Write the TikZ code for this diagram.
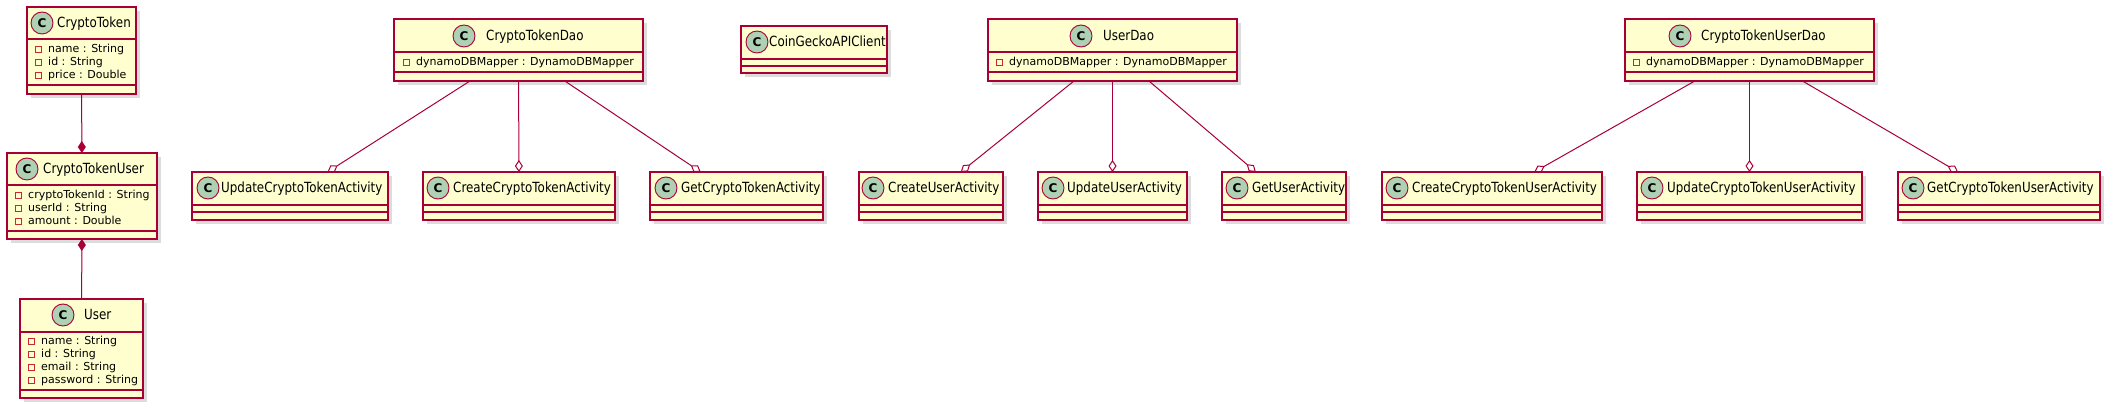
\documentclass[tikz,border=0pt]{standalone}
\usepackage{fontspec}
\setmainfont{DejaVu Sans}
\newfontfamily\titlefont[FakeStretch=0.85]{DejaVu Sans}
\usetikzlibrary{arrows.meta,shadows}
\definecolor{umlborder}{HTML}{A80036}
\definecolor{umlfill}{HTML}{FEFECE}
\definecolor{umlcirc}{HTML}{ADD1B2}
\definecolor{umlpriv}{HTML}{C82930}
\tikzset{
 classbox/.style={rectangle, draw=umlborder, fill=umlfill, line width=1.25pt, inner sep=0pt, outer sep=0pt,
   drop shadow={shadow xshift=4pt, shadow yshift=-4pt, fill=black!50, opacity=0.28}},
 sepline/.style={draw=umlborder, line width=1.25pt},
 circmark/.style={circle, draw=umlborder, fill=umlcirc, line width=0.9pt, minimum size=22pt, inner sep=0pt,
   font=\fontsize{12}{12}\selectfont\bfseries},
 classname/.style={anchor=base west, inner sep=0pt, font=\titlefont\fontsize{14}{16}\selectfont},
 attrtext/.style={anchor=base west, inner sep=0pt, font=\fontsize{11}{13}\selectfont},
 privmark/.style={draw=umlpriv, line width=0.9pt},
 agg/.style={draw=umlborder, line width=1pt, -{Diamond[open, length=12pt, width=8pt]}},
 comp/.style={draw=umlborder, fill=umlborder, line width=1pt, -{Diamond[length=12pt, width=8pt]}},
}
\newcommand\umlclass[7]{%
 \pgfmathsetmacro\bw{#4-#2}\pgfmathsetmacro\bh{#5-#3}%
 \node[classbox, minimum width=\bw pt, minimum height=\bh pt] (#1) at ({(#2+#4)/2},{(#3+#5)/2}) {};
 \draw[sepline] (#2,#6) -- (#4,#6) (#2,#7) -- (#4,#7);
}
\newcommand\umltitle[5]{%
 \node[circmark] (#1-c) at (#2,#3) {C};
 \node[classname] (#1-t) at (#4,#3+5) {#5};
}
\newcommand\umlattr[4]{%
 \draw[privmark] (#2,#3-6.5) rectangle (#2+6,#3-0.5);
 \node[attrtext] (#1) at (#2+13,#3) {#4};
}
\begin{document}
\begin{tikzpicture}[x=1pt,y=-1pt]
\useasboundingbox (0,0) rectangle (2113,411);
% entity classes
\umlclass{ct}{27}{7}{136}{94}{39}{85}
\umltitle{ct}{42}{23}{57}{CryptoToken}
\umlattr{ct-a1}{35}{53}{name : String}
\umlattr{ct-a2}{35}{66}{id : String}
\umlattr{ct-a3}{35}{79}{price : Double}

\umlclass{ctu}{7}{153}{157}{239}{185}{231}
\umltitle{ctu}{27}{169}{43}{CryptoTokenUser}
\umlattr{ctu-a1}{15}{199}{cryptoTokenId : String}
\umlattr{ctu-a2}{15}{212}{userId : String}
\umlattr{ctu-a3}{15}{225}{amount : Double}

\umlclass{user}{20}{299}{143}{398}{332}{390}
\umltitle{user}{63}{315}{84}{User}
\umlattr{user-a1}{28}{345}{name : String}
\umlattr{user-a2}{28}{358}{id : String}
\umlattr{user-a3}{28}{371}{email : String}
\umlattr{user-a4}{28}{384}{password : String}

% DAOs and client
\umlclass{ctdao}{394}{19}{643}{81}{52}{72}
\umltitle{ctdao}{464}{36}{486}{CryptoTokenDao}
\umlattr{ctdao-a1}{403}{66}{dynamoDBMapper : DynamoDBMapper}

\umlclass{cgc}{741}{26}{887}{73}{59}{66}
\umltitle{cgc}{757}{42}{769}{CoinGeckoAPIClient}

\umlclass{udao}{988}{19}{1237}{81}{52}{72}
\umltitle{udao}{1081}{36}{1103}{UserDao}
\umlattr{udao-a1}{996}{66}{dynamoDBMapper : DynamoDBMapper}

\umlclass{ctudao}{1625}{19}{1874}{81}{52}{72}
\umltitle{ctudao}{1680}{36}{1701}{CryptoTokenUserDao}
\umlattr{ctudao-a1}{1633}{66}{dynamoDBMapper : DynamoDBMapper}

% activities
\umlclass{updct}{192}{172}{388}{220}{205}{212}
\umltitle{updct}{208}{188}{221}{UpdateCryptoTokenActivity}
\umlclass{crect}{423}{172}{615}{220}{205}{212}
\umltitle{crect}{438}{188}{453}{CreateCryptoTokenActivity}
\umlclass{getct}{650}{172}{823}{220}{205}{212}
\umltitle{getct}{666}{188}{681}{GetCryptoTokenActivity}

\umlclass{creuser}{859}{172}{1003}{220}{205}{212}
\umltitle{creuser}{873}{188}{888}{CreateUserActivity}
\umlclass{upduser}{1038}{172}{1187}{220}{205}{212}
\umltitle{upduser}{1053}{188}{1067}{UpdateUserActivity}
\umlclass{getuser}{1222}{172}{1346}{220}{205}{212}
\umltitle{getuser}{1237}{188}{1252}{GetUserActivity}

\umlclass{crectu}{1382}{172}{1602}{220}{205}{212}
\umltitle{crectu}{1397}{188}{1412}{CreateCryptoTokenUserActivity}
\umlclass{updctu}{1637}{172}{1862}{220}{205}{212}
\umltitle{updctu}{1652}{188}{1667}{UpdateCryptoTokenUserActivity}
\umlclass{getctu}{1898}{172}{2100}{220}{205}{212}
\umltitle{getctu}{1913}{188}{1927}{GetCryptoTokenUserActivity}

% connectors
\draw[comp] (ct) -- (ctu);
\draw[comp] (user) -- (ctu);
\draw[agg] (ctdao) -- (updct);
\draw[agg] (ctdao) -- (crect);
\draw[agg] (ctdao) -- (getct);
\draw[agg] (udao) -- (creuser);
\draw[agg] (udao) -- (upduser);
\draw[agg] (udao) -- (getuser);
\draw[agg] (ctudao) -- (crectu);
\draw[agg] (ctudao) -- (updctu);
\draw[agg] (ctudao) -- (getctu);
\end{tikzpicture}
\end{document}
